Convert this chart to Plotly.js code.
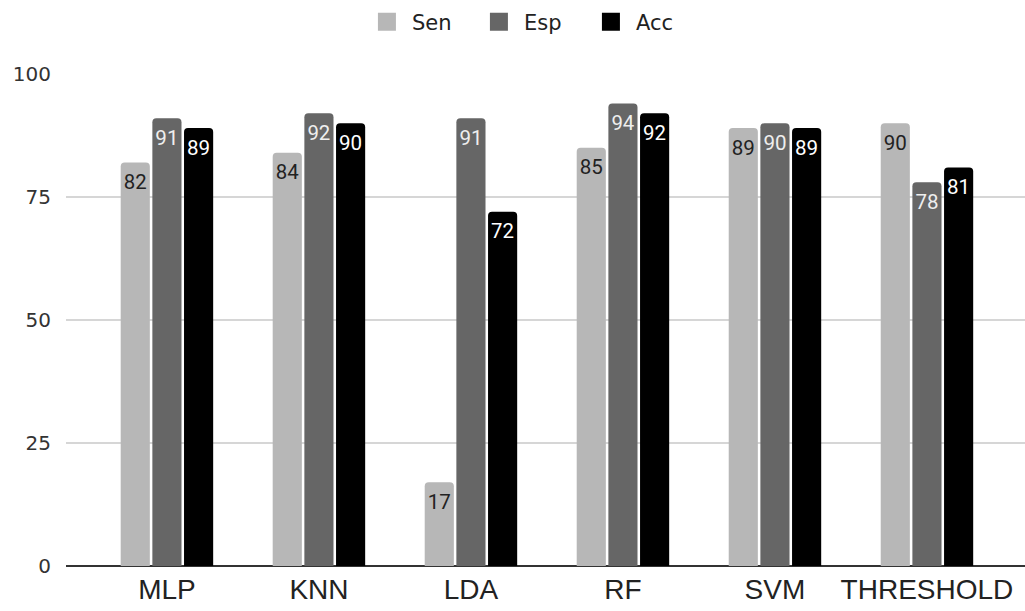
<!DOCTYPE html>
<html>
<head>
<meta charset="utf-8">
<script src="https://cdn.plot.ly/plotly-3.0.1.min.js"></script>
<style>
  html, body { margin: 0; padding: 0; background: #fff; }
  #chart { width: 1025px; height: 611px; }
</style>
</head>
<body>
<div id="chart"></div>
<script>
// Classifier scores (percent)
const models = ["MLP", "KNN", "LDA", "RF", "SVM", "THRESHOLD"];
const sen = [82, 84, 17, 85, 89, 90];
const esp = [91, 92, 91, 94, 90, 78];
const acc = [89, 90, 72, 92, 89, 81];
const yTicks = [0, 25, 50, 75, 100];

function series(name, values, color, textColor) {
  return {
    type: "bar",
    name: name,
    x: models,
    y: values,
    text: values.map(String),
    textposition: "inside",
    insidetextanchor: "end",
    textangle: 0,
    constraintext: "none",
    insidetextfont: { family: "Roboto, 'Liberation Sans', sans-serif", size: 21, color: textColor },
    marker: { color: color, line: { width: 0 } },
    hoverinfo: "x+y+name"
  };
}

const data = [
  series("Sen", sen, "#b7b7b7", "#222222"),
  series("Esp", esp, "#666666", "#eeeeee"),
  series("Acc", acc, "#000000", "#ffffff")
];

const layout = {
  width: 1025,
  height: 611,
  margin: { l: 66, r: 0, t: 74, b: 45 },
  paper_bgcolor: "#ffffff",
  plot_bgcolor: "#ffffff",
  barmode: "group",
  bargap: 0.375,
  bargroupgap: 0.08,
  barcornerradius: 4,
  showlegend: true,
  legend: {
    orientation: "h",
    x: 0.517, xanchor: "center", xref: "container",
    y: 0.964, yanchor: "middle", yref: "container",
    font: { family: "'DejaVu Sans', sans-serif", size: 21, color: "#222222" },
    itemwidth: 40,
    entrywidth: 57,
    traceorder: "normal"
  },
  xaxis: {
    type: "category",
    range: [-0.664, 5.645],
    showgrid: false,
    zeroline: false,
    showline: false,
    ticks: "",
    ticklabelstandoff: 4,
    tickfont: { family: "'Liberation Sans', Arial, sans-serif", size: 28, color: "#222222" },
    fixedrange: true
  },
  yaxis: {
    range: [0, 100],
    tickvals: yTicks,
    ticktext: yTicks.map(String),
    showgrid: true,
    gridcolor: "#d6d6d6",
    gridwidth: 1.5,
    zeroline: true,
    zerolinecolor: "#333333",
    zerolinewidth: 1.5,
    showline: false,
    ticks: "",
    ticklabelstandoff: 14,
    tickfont: { family: "'DejaVu Sans', sans-serif", size: 20, color: "#333333" },
    fixedrange: true
  }
};

Plotly.newPlot("chart", data, layout, { displayModeBar: false, staticPlot: true }).then(function (gd) {
  // enlarge the legend swatches and round their corners
  gd.querySelectorAll(".legendpoints path").forEach(function (p) {
    p.setAttribute("d", "M9,9H-9V-9H9Z");
    p.setAttribute("stroke-linejoin", "round");
    p.style.strokeWidth = "2px";
  });
  // give the value labels a little more room below the bar tops
  gd.querySelectorAll(".bartext").forEach(function (t) {
    const g = t.parentNode;
    const shift = document.createElementNS("http://www.w3.org/2000/svg", "g");
    shift.setAttribute("transform", "translate(0,4)");
    g.insertBefore(shift, t);
    shift.appendChild(t);
  });
});
</script>
</body>
</html>
